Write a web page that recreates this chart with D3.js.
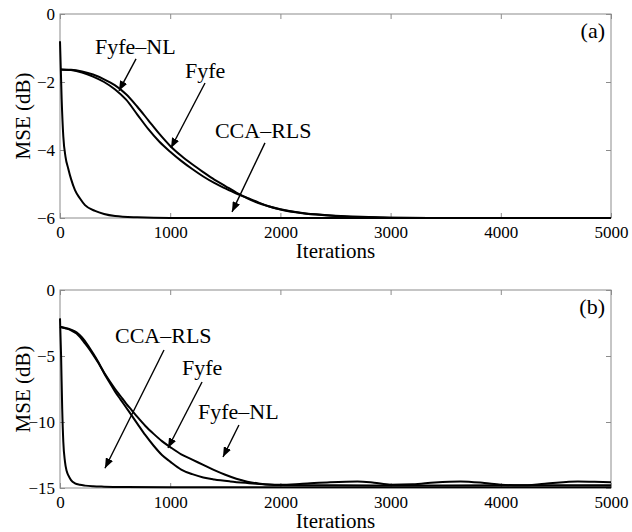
<!DOCTYPE html>
<html>
<head>
<meta charset="utf-8">
<script src="https://cdn.jsdelivr.net/npm/d3@7"></script>
<style>
  body { margin: 0; background: #fff; }
  text { font-family: "Liberation Serif", "Times New Roman", serif; fill: #000; }
</style>
</head>
<body>
<div id="body"></div>
<script>
var width = 632;
var height = 532;

// x ticks shared by both panels
var iterTicks = [0, 1000, 2000, 3000, 4000, 5000];

// ---- panel (a) ----
var ticksA = [-6, -4, -2, 0];
var ccaRlsA = [[0, -0.8], [15, -2.5], [30, -3.6], [50, -4.2], [75, -4.55], [100, -4.85],
  [136, -5.18], [180, -5.42], [227, -5.62], [318, -5.79], [400, -5.88], [500, -5.94],
  [700, -5.98], [1000, -6.0], [2000, -6.0], [5000, -6.0]];
var fyfeA = [[0, -1.63], [100, -1.65], [200, -1.72], [300, -1.84], [400, -2.0], [500, -2.22],
  [600, -2.52], [700, -2.95], [800, -3.38], [900, -3.75], [1000, -4.05], [1100, -4.32],
  [1200, -4.56], [1300, -4.78], [1400, -4.97], [1500, -5.13], [1600, -5.28], [1700, -5.41],
  [1800, -5.54], [1900, -5.66], [2000, -5.74], [2200, -5.85], [2400, -5.91], [2600, -5.95],
  [2800, -5.97], [3000, -5.99], [3500, -6.0], [5000, -6.0]];
var fyfeNlA = [[0, -1.63], [100, -1.64], [200, -1.69], [300, -1.78], [400, -1.92], [500, -2.1],
  [600, -2.36], [700, -2.72], [800, -3.12], [900, -3.52], [1000, -3.88], [1100, -4.17],
  [1200, -4.42], [1300, -4.65], [1400, -4.87], [1500, -5.06], [1600, -5.25], [1700, -5.42],
  [1800, -5.56], [1900, -5.66], [2000, -5.75], [2200, -5.86], [2400, -5.92], [2600, -5.96],
  [2800, -5.98], [3000, -5.99], [3500, -6.0], [5000, -6.0]];

// ---- panel (b) ----
var ticksB = [-15, -10, -5, 0];
var ccaRlsB = [[0, -2.15], [10, -5], [20, -9], [30, -11.5], [45, -13.0], [60, -13.7],
  [76, -14.05], [100, -14.4], [136, -14.65], [180, -14.76], [227, -14.82], [300, -14.87],
  [400, -14.9], [600, -14.93], [1000, -14.95], [5000, -14.95]];
var fyfeB = [[0, -2.78], [50, -2.9], [100, -3.05], [150, -3.3], [200, -3.75], [250, -4.3],
  [300, -4.9], [350, -5.55], [400, -6.25], [450, -6.9], [500, -7.5], [550, -8.05],
  [600, -8.6], [650, -9.1], [700, -9.6], [775, -10.3], [850, -10.9], [925, -11.45],
  [1000, -11.9], [1100, -12.45], [1200, -12.85], [1300, -13.25], [1400, -13.65], [1500, -14.0],
  [1600, -14.3], [1700, -14.52], [1800, -14.66], [1900, -14.74], [2000, -14.76], [2200, -14.68],
  [2450, -14.56], [2700, -14.5], [2850, -14.6], [3000, -14.75], [3200, -14.72], [3400, -14.58],
  [3636, -14.5], [3850, -14.62], [4000, -14.75], [4180, -14.8], [4400, -14.68], [4700, -14.5],
  [4850, -14.52], [5000, -14.56]];
var fyfeNlB = [[0, -2.78], [50, -2.88], [100, -3.0], [150, -3.2], [200, -3.6], [250, -4.15],
  [300, -4.8], [350, -5.5], [400, -6.3], [450, -7.0], [500, -7.7], [550, -8.3], [600, -8.9],
  [650, -9.5], [700, -10.1], [775, -11.0], [850, -11.8], [925, -12.5], [1000, -13.0],
  [1100, -13.6], [1200, -13.95], [1300, -14.2], [1400, -14.35], [1545, -14.5], [1700, -14.62],
  [1850, -14.72], [2000, -14.78], [2500, -14.8], [3000, -14.82], [4000, -14.8], [5000, -14.8]];

// annotations: [text, textIter, textDb, arrowFromIter, arrowFromDb, arrowToIter, arrowToDb]
var notesA = [
  ["Fyfe\u2013NL", 318, -1.18, 690, -1.32, 535, -2.26],
  ["Fyfe", 1134, -1.88, 1316, -2.03, 1007, -3.94],
  ["CCA\u2013RLS", 1406, -3.65, 1860, -3.79, 1561, -5.82]
];
var notesB = [
  ["CCA\u2013RLS", 499, -4.0, 944, -4.55, 408, -13.5],
  ["Fyfe", 1107, -6.44, 1289, -6.97, 980, -11.97],
  ["Fyfe\u2013NL", 1252, -9.77, 1624, -10.23, 1479, -12.65]
];

var frameColor = "#8c8c8c";
var left = 60, right = 611;

var svg = d3.select("#body").append("svg")
  .attr("width", width)
  .attr("height", height);

svg.append("defs").append("marker")
  .attr("id", "arrow")
  .attr("viewBox", "0 0 10 8")
  .attr("refX", 10)
  .attr("refY", 4)
  .attr("markerUnits", "userSpaceOnUse")
  .attr("markerWidth", 10)
  .attr("markerHeight", 8)
  .attr("orient", "auto")
  .append("path")
  .attr("d", "M0,0 L10,4 L0,8 Z")
  .attr("fill", "#000");

var x = d3.scaleLinear().domain([0, 5000]).range([left, right]);
var fmt = d3.format("d");

function drawPanel(top, bottom, yDomain, yTicks, series, notes, tag) {
  var y = d3.scaleLinear().domain(yDomain).range([bottom, top]);
  var g = svg.append("g");

  // frame
  g.append("rect")
    .attr("x", left).attr("y", top)
    .attr("width", right - left).attr("height", bottom - top)
    .attr("fill", "none").attr("stroke", frameColor).attr("stroke-width", 1);

  var xAxis = g.append("g").attr("transform", "translate(0," + bottom + ")")
    .call(d3.axisBottom(x).tickValues(iterTicks).tickFormat(fmt)
      .tickSizeInner(-5).tickSizeOuter(0).tickPadding(8));
  var xTop = g.append("g").attr("transform", "translate(0," + top + ")")
    .call(d3.axisTop(x).tickValues(iterTicks).tickSizeInner(-5).tickSizeOuter(0).tickFormat(""));
  var yAxis = g.append("g").attr("transform", "translate(" + left + ",0)")
    .call(d3.axisLeft(y).tickValues(yTicks).tickFormat(fmt)
      .tickSizeInner(-5).tickSizeOuter(0).tickPadding(5));
  var yRight = g.append("g").attr("transform", "translate(" + right + ",0)")
    .call(d3.axisRight(y).tickValues(yTicks).tickSizeInner(-5).tickSizeOuter(0).tickFormat(""));

  [xAxis, xTop, yAxis, yRight].forEach(function (a) {
    a.select(".domain").remove();
    a.selectAll("line").attr("stroke", frameColor);
    a.selectAll("text").attr("font-size", 17)
      .style("font-family", "Liberation Serif, serif").attr("fill", "#000");
  });

  var line = d3.line()
    .x(function (d) { return x(d[0]); })
    .y(function (d) { return y(d[1]); })
    .curve(d3.curveMonotoneX);

  g.selectAll("path.curve")
    .data(series)
    .enter()
    .append("path")
    .attr("class", "curve")
    .attr("d", line)
    .attr("fill", "none")
    .attr("stroke", "#000")
    .attr("stroke-width", 2);

  // annotations
  g.selectAll("line.arrow")
    .data(notes)
    .enter()
    .append("line")
    .attr("class", "arrow")
    .attr("x1", function (d) { return x(d[3]); })
    .attr("y1", function (d) { return y(d[4]); })
    .attr("x2", function (d) { return x(d[5]); })
    .attr("y2", function (d) { return y(d[6]); })
    .attr("stroke", "#000")
    .attr("stroke-width", 1.4)
    .attr("marker-end", "url(#arrow)");

  g.selectAll("text.note")
    .data(notes)
    .enter()
    .append("text")
    .attr("class", "note")
    .attr("x", function (d) { return x(d[1]); })
    .attr("y", function (d) { return y(d[2]); })
    .attr("font-size", 22)
    .text(function (d) { return d[0]; });

  g.append("text")
    .attr("x", right - 6)
    .attr("y", top + 24)
    .attr("text-anchor", "end")
    .attr("font-size", 22)
    .text(tag);

  g.append("text")
    .attr("x", (left + right) / 2)
    .attr("y", bottom + 40)
    .attr("text-anchor", "middle")
    .attr("font-size", 21)
    .text("Iterations");

  g.append("text")
    .attr("transform", "translate(30," + (top + bottom) / 2 + ") rotate(-90)")
    .attr("text-anchor", "middle")
    .attr("font-size", 21)
    .text("MSE (dB)");
}

drawPanel(14, 218, [-6, 0], ticksA, [ccaRlsA, fyfeA, fyfeNlA], notesA, "(a)");
drawPanel(290, 488, [-15, 0], ticksB, [ccaRlsB, fyfeB, fyfeNlB], notesB, "(b)");
</script>
</body>
</html>
